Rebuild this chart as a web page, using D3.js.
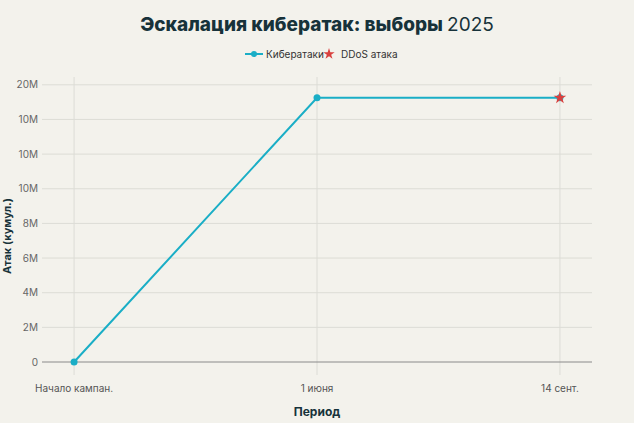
<html>
<head>
<script src="https://cdn.jsdelivr.net/npm/d3@7"></script>
<style>
body{margin:0;background:#f3f2ec;}
text{font-family:Inter,"Noto Sans",sans-serif;}
</style>
</head>
<body>
<div id="chart"></div>
<script>
const periods = ["Начало кампан.", "1 июня", "14 сент."];
const attacks = [0, 15250000, 15250000];
const ddosPeriods = ["14 сент."];
const ddosValues = [15250000];
const yTicks = [0, 2e6, 4e6, 6e6, 8e6, 10e6, 12e6, 14e6, 16e6];

const W = 634, H = 423;
const margin = {top: 77, right: 42, bottom: 48, left: 42};
const width = W - margin.left - margin.right, height = H - margin.top - margin.bottom;

const svg = d3.select("#chart").append("svg").attr("width", W).attr("height", H);
svg.append("rect").attr("width", W).attr("height", H).attr("fill", "#f3f2ec");
const g = svg.append("g").attr("transform", `translate(${margin.left},${margin.top})`);

const x = d3.scalePoint().domain(periods).range([0, width]).padding(0.132);
const y = d3.scaleLinear().domain([-0.75e6, 16.45e6]).range([height, 0]);

// grid
g.selectAll(".vg").data(periods).join("line")
  .attr("x1", d => x(d)).attr("x2", d => x(d)).attr("y1", 0).attr("y2", height)
  .attr("stroke", "#dcdcd6").attr("stroke-width", 1);
g.selectAll(".hg").data(yTicks).join("line")
  .attr("x1", 0).attr("x2", width).attr("y1", d => y(d)).attr("y2", d => y(d))
  .attr("stroke", d => d === 0 ? "#8a8a8a" : "#dcdcd6").attr("stroke-width", 1);

// axes labels
const fmt = d3.format(".1s");
g.selectAll(".yl").data(yTicks).join("text")
  .attr("x", -4).attr("y", d => y(d)).attr("dy", "0.35em").attr("text-anchor", "end")
  .attr("font-size", 10).attr("fill", "#666").text(d => d === 0 ? "0" : fmt(d));
g.selectAll(".xl").data(periods).join("text")
  .attr("x", d => x(d)).attr("y", height + 17).attr("text-anchor", "middle")
  .attr("font-size", 10).attr("fill", "#555").text(d => d);

// line
g.append("path").datum(periods.map((p, i) => [p, attacks[i]]))
  .attr("fill", "none").attr("stroke", "#1aaec6").attr("stroke-width", 2)
  .attr("d", d3.line().x(d => x(d[0])).y(d => y(d[1])));
g.selectAll(".pt").data(periods.map((p, i) => [p, attacks[i]])).join("circle")
  .attr("cx", d => x(d[0])).attr("cy", d => y(d[1])).attr("r", 3.5).attr("fill", "#1aaec6");
g.selectAll(".star").data(ddosPeriods.map((p, i) => [p, ddosValues[i]])).join("path")
  .attr("transform", d => `translate(${x(d[0])},${y(d[1])})`)
  .attr("d", d3.symbol(d3.symbolStar, 50)).attr("fill", "#d9413f");

// titles
const title = svg.append("text").attr("x", W / 2).attr("y", 31).attr("text-anchor", "middle")
  .attr("font-size", 19).attr("fill", "#17323a");
title.append("tspan").attr("font-weight", 800).text("Эскалация кибератак: выборы ");
title.append("tspan").attr("font-weight", 400).text("2025");
svg.append("text").attr("x", margin.left + width / 2).attr("y", 416).attr("text-anchor", "middle")
  .attr("font-size", 12).attr("font-weight", 700).attr("fill", "#17323a").text("Период");
svg.append("text").attr("transform", `translate(11,${margin.top + height / 2 + 10}) rotate(-90)`)
  .attr("text-anchor", "middle").attr("font-size", 11).attr("font-weight", 700).attr("fill", "#17323a")
  .text("Атак (кумул.)");

// legend
const lg = svg.append("g").attr("transform", "translate(245,54)");
lg.append("line").attr("x1", 0).attr("x2", 18).attr("stroke", "#1aaec6").attr("stroke-width", 2);
lg.append("circle").attr("cx", 9).attr("r", 3).attr("fill", "#1aaec6");
lg.append("text").attr("x", 21).attr("dy", "0.35em").attr("font-size", 10).attr("fill", "#333").text("Кибератаки");
lg.append("path").attr("transform", "translate(84,0)").attr("d", d3.symbol(d3.symbolStar, 40)).attr("fill", "#d9413f");
lg.append("text").attr("x", 96).attr("dy", "0.35em").attr("font-size", 10).attr("fill", "#333").text("DDoS атака");
</script>
</body>
</html>
